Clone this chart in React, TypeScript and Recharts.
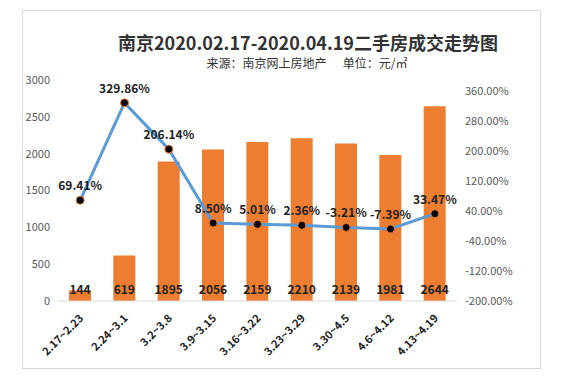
import {
  Bar,
  ComposedChart,
  LabelList,
  Line,
  XAxis,
  YAxis,
} from "recharts";

const weeks = [
  "2.17~2.23",
  "2.24~3.1",
  "3.2~3.8",
  "3.9~3.15",
  "3.16~3.22",
  "3.23~3.29",
  "3.30~4.5",
  "4.6~4.12",
  "4.13~4.19",
];
const prices = [144, 619, 1895, 2056, 2159, 2210, 2139, 1981, 2644];
const changes = [69.41, 329.86, 206.14, 8.5, 5.01, 2.36, -3.21, -7.39, 33.47];
const leftTicks = [0, 500, 1000, 1500, 2000, 2500, 3000];
const rightTicks = [-200, -120, -40, 40, 120, 200, 280, 360];

const rows = weeks.map((week, i) => ({
  week,
  price: prices[i],
  change: changes[i],
}));

const FONT = '"Noto Sans CJK SC", "Noto Sans", sans-serif';
const SERIF_BOLD = '"Noto Sans CJK SC", "DejaVu Sans", sans-serif';

function WeekTick({ x, y, payload }: any) {
  return (
    <text
      x={x + 4}
      y={y + 10}
      transform={`rotate(-45, ${x + 4}, ${y + 10})`}
      textAnchor="end"
      fontSize={11}
      fontWeight="bold"
      fill="#222"
      fontFamily={SERIF_BOLD}
    >
      {payload.value}
    </text>
  );
}

function ChangeDot({ cx, cy }: any) {
  return (
    <circle cx={cx} cy={cy} r={4} fill="#000" stroke="#ed7d31" strokeWidth={1} />
  );
}

export default function App() {
  return (
    <div
      style={{
        position: "absolute",
        left: 0,
        top: 0,
        width: 561,
        height: 376,
        background: "#fff",
        fontFamily: FONT,
      }}
    >
      <div
        style={{
          position: "absolute",
          left: 22,
          top: 10,
          width: 517,
          height: 357,
          border: "1px solid #d9d9d9",
        }}
      />
      <div
        style={{
          position: "absolute",
          left: 0,
          top: 32,
          width: 616,
          textAlign: "center",
          fontSize: 18,
          fontWeight: "bold",
          color: "#333",
          lineHeight: "20px",
        }}
      >
        南京2020.02.17-2020.04.19二手房成交走势图
      </div>
      <div
        style={{
          position: "absolute",
          left: 0,
          top: 56,
          width: 614,
          textAlign: "center",
          fontSize: 12,
          color: "#333",
          lineHeight: "14px",
          whiteSpace: "pre",
        }}
      >
        {"来源：南京网上房地产      单位：元/㎡"}
      </div>
      <ComposedChart
        width={561}
        height={376}
        data={rows}
        margin={{ top: 80, right: 0, bottom: 0, left: 0 }}
        style={{ position: "absolute", left: 0, top: 0 }}
      >
        <XAxis
          dataKey="week"
          height={75}
          interval={0}
          tickLine={false}
          axisLine={{ stroke: "#d9d9d9" }}
          tick={<WeekTick />}
        />
        <YAxis
          yAxisId="left"
          width={58}
          domain={[0, 3000]}
          ticks={leftTicks}
          axisLine={false}
          tickLine={false}
          tick={{ fontSize: 11, fill: "#595959", fontFamily: FONT }}
        />
        <YAxis
          yAxisId="right"
          orientation="right"
          width={104}
          domain={[-200, 391]}
          ticks={rightTicks}
          axisLine={false}
          tickLine={false}
          tick={{ fontSize: 11, fill: "#595959", fontFamily: FONT, textAnchor: "start" }}
          tickFormatter={(v: number) => `${v.toFixed(2)}%`}
        />
        <Bar
          yAxisId="left"
          dataKey="price"
          fill="#ed7d31"
          barSize={22}
          isAnimationActive={false}
        >
          <LabelList
            dataKey="price"
            position="insideBottom"
            offset={7}
            fontSize={12}
            fontWeight="bold"
            fill="#222"
            fontFamily={SERIF_BOLD}
          />
        </Bar>
        <Line
          yAxisId="right"
          dataKey="change"
          stroke="#5b9bd5"
          strokeWidth={3}
          dot={<ChangeDot />}
          isAnimationActive={false}
        >
          <LabelList
            dataKey="change"
            position="top"
            offset={10}
            fontSize={12}
            fontWeight="bold"
            fill="#222"
            fontFamily={SERIF_BOLD}
            formatter={(v: number) => `${v.toFixed(2)}%`}
          />
        </Line>
      </ComposedChart>
    </div>
  );
}
